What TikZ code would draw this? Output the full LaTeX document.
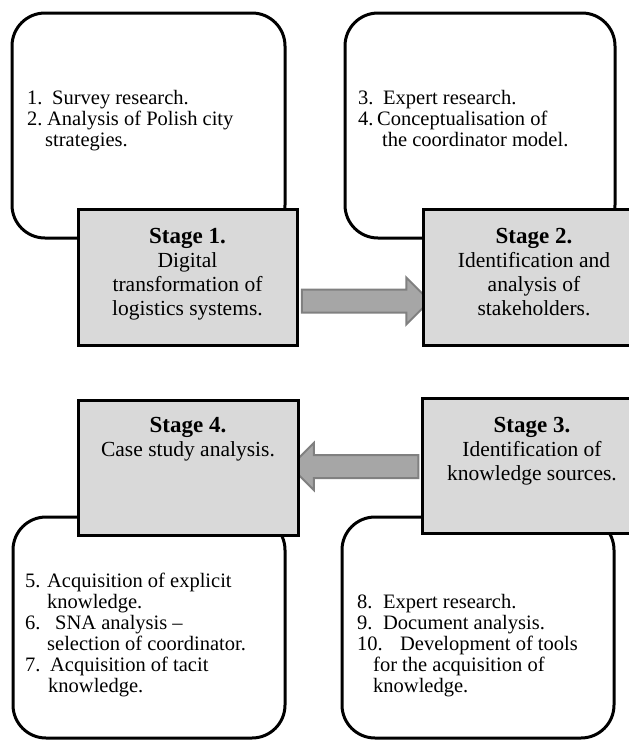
\documentclass[tikz,border=0pt]{standalone}
\usepackage{fontspec}
\setmainfont{Liberation Serif}
\usetikzlibrary{positioning,calc,shapes.arrows,backgrounds}

\definecolor{stagegray}{HTML}{D9D9D9}
\definecolor{arrowfill}{HTML}{A6A6A6}
\definecolor{arrowedge}{HTML}{808080}

\tikzset{
  listbox/.style={draw, line width=3pt, rounded corners=33pt, inner sep=0pt},
  stagebox/.style={draw, line width=3pt, fill=stagegray, inner sep=0pt},
  listtext/.style={anchor=north west, align=left, inner sep=0pt,
    font=\fontsize{20.5}{21}\selectfont},
  stagetext/.style={align=center, inner sep=0pt,
    font=\fontsize{21.5}{24}\selectfont},
  bigarrow/.style={single arrow, draw=arrowedge, fill=arrowfill, line width=2pt,
    inner sep=10.5pt, single arrow head extend=12pt, minimum height=128pt}
}
\newcommand{\stagehead}[1]{{\bfseries\fontsize{23}{24}\selectfont #1}}

\begin{document}
\begin{tikzpicture}[x=1pt,y=-1pt]
    \useasboundingbox (0,0) rectangle (629,740);
    \clip (0,0) rectangle (629,740);

    % rounded boxes with the methods
    \node[listbox, minimum width=273pt, minimum height=225pt] (list1) at (148.5,125.5) {};
    \node[listbox, minimum width=270pt, minimum height=225pt] (list2) at (480,125.5) {};
    \node[listbox, minimum width=272pt, minimum height=221pt] (list3) at (149,627.5) {};
    \node[listbox, minimum width=272pt, minimum height=221pt] (list4) at (478,627.5) {};

    \node[listtext] (items1) at (27,90) {%
        \makebox[25pt][l]{1.}Survey research.\\
        \makebox[20pt][l]{2.}Analysis of Polish city\\
        \hspace*{18pt}strategies.};
    \node[listtext] (items2) at (358,90) {%
        \makebox[25pt][l]{3.}Expert research.\\
        \makebox[19pt][l]{4.}Conceptualisation of\\
        \hspace*{24pt}the coordinator model.};
    \node[listtext] (items3) at (25,573) {%
        \makebox[22pt][l]{5.}Acquisition of explicit\\
        \hspace*{22pt}knowledge.\\
        \makebox[30pt][l]{6.}SNA analysis –\\
        \hspace*{22pt}selection of coordinator.\\
        \makebox[25pt][l]{7.}Acquisition of tacit\\
        \hspace*{23pt}knowledge.};
    \node[listtext] (items4) at (357,594) {%
        \makebox[26pt][l]{8.}Expert research.\\
        \makebox[26pt][l]{9.}Document analysis.\\
        \makebox[43pt][l]{10.}Development of tools\\
        \hspace*{16pt}for the acquisition of\\
        \hspace*{16pt}knowledge.};

    % stage boxes
    \node[stagebox, minimum width=219pt, minimum height=136pt] (stage1) at (187.5,277) {};
    \node[stagebox, minimum width=222pt, minimum height=136pt] (stage2) at (534,277) {};
    \node[stagebox, minimum width=220pt, minimum height=135pt] (stage3) at (532,465.5) {};
    \node[stagebox, minimum width=220pt, minimum height=135pt] (stage4) at (188,467.5) {};

    \node[stagetext, below=21pt of stage1.north] (title1)
        {\stagehead{Stage 1.}\\Digital\\transformation of\\logistics systems.};
    \node[stagetext, below=21pt of stage2.north] (title2)
        {\stagehead{Stage 2.}\\Identification and\\analysis of\\stakeholders.};
    \node[stagetext, below=21pt of stage3.north] (title3)
        {\stagehead{Stage 3.}\\Identification of\\knowledge sources.};
    \node[stagetext, below=19pt of stage4.north] (title4)
        {\stagehead{Stage 4.}\\Case study analysis.};

    % arrows between the stages
    \begin{scope}[on background layer]
        \node[bigarrow] (arr12) at ($(stage1.east)!0.5!(stage2.west)+(0,24)$) {};
        \node[bigarrow, shape border rotate=180] (arr34) at ($(stage3.west)!0.5!(stage4.east)$) {};
    \end{scope}

\end{tikzpicture}
\end{document}
